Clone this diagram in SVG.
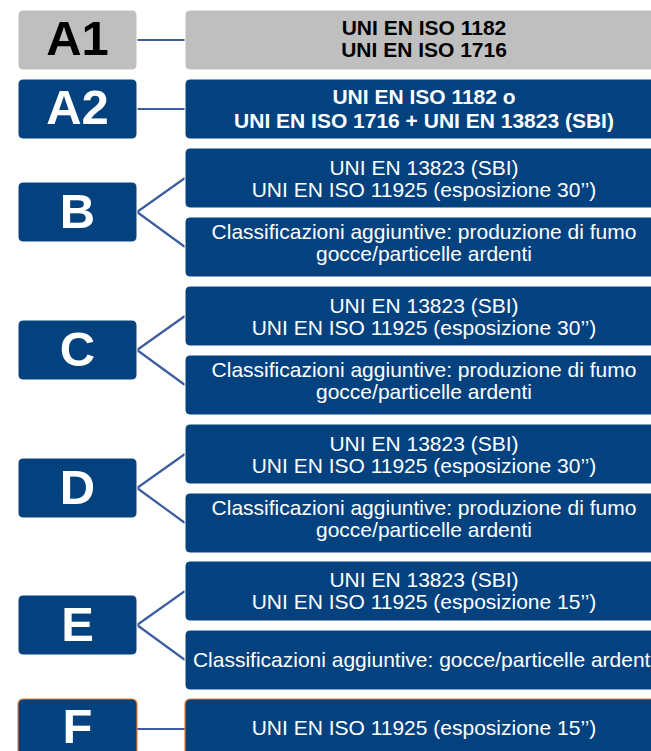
<svg xmlns="http://www.w3.org/2000/svg" width="651" height="751" viewBox="0 0 651 751">
<style>
.nb{fill:#03427F;stroke:#ffffff;stroke-width:1}
.gb{fill:#BFBFBF;stroke:#ffffff;stroke-width:1}
.ob{fill:#03427F;stroke:#ED7D31;stroke-width:1.2}
.L{font-family:"Liberation Sans",Arial,sans-serif;font-weight:bold;font-size:49px;text-anchor:middle;fill:#fff}
.t{font-family:"Liberation Sans",Arial,sans-serif;font-size:21px;text-anchor:middle;fill:#fff}
.tb{font-family:"Liberation Sans",Arial,sans-serif;font-size:21px;font-weight:bold;text-anchor:middle;fill:#fff}
.k{fill:#000}
.c{stroke:#3C5E9F;stroke-width:2.2;fill:none}
</style>
<rect width="651" height="751" fill="#fff"/>
<g id="connectors">
<path class="c" d="M137 40H185"/>
<path class="c" d="M137 109H185"/>
<path class="c" d="M137 212L185 178M137 212L185 247"/>
<path class="c" d="M137 350L185 316M137 350L185 385"/>
<path class="c" d="M137 488L185 454M137 488L185 523"/>
<path class="c" d="M137 625L185 591M137 625L185 660"/>
<path class="c" d="M137 729H185"/>
</g>
<g id="A1">
<rect class="gb" x="18" y="10" width="119" height="60" rx="5"/>
<text class="L k" x="77.5" y="55">A1</text>
</g>
<g id="A1-text">
<rect class="gb" x="185" y="10" width="480" height="60" rx="5"/>
<text class="tb k" x="424" y="35">UNI EN ISO 1182</text>
<text class="tb k" x="424" y="57">UNI EN ISO 1716</text>
</g>
<g id="A2">
<rect class="nb" x="18" y="79" width="119" height="60" rx="5"/>
<text class="L" x="77.5" y="124">A2</text>
</g>
<g id="A2-text">
<rect class="nb" x="185" y="79" width="480" height="60" rx="5"/>
<text class="tb" x="424" y="104">UNI EN ISO 1182 o</text>
<text class="tb" x="424" y="127.5">UNI EN ISO 1716 + UNI EN 13823 (SBI)</text>
</g>
<g id="B">
<rect class="nb" x="18" y="182" width="119" height="60" rx="5"/>
<text class="L" x="77.5" y="227.5">B</text>
</g>
<g id="B-test">
<rect class="nb" x="185" y="148" width="480" height="60" rx="5"/>
<text class="t" x="424" y="174.5">UNI EN 13823 (SBI)</text>
<text class="t" x="424" y="196.5">UNI EN ISO 11925 (esposizione 30&#8217;&#8217;)</text>
</g>
<g id="B-extra">
<rect class="nb" x="185" y="217" width="480" height="60" rx="5"/>
<text class="t" x="424" y="239">Classificazioni aggiuntive: produzione di fumo</text>
<text class="t" x="424" y="261">gocce/particelle ardenti</text>
</g>
<g id="C">
<rect class="nb" x="18" y="320" width="119" height="60" rx="5"/>
<text class="L" x="77.5" y="365.5">C</text>
</g>
<g id="C-test">
<rect class="nb" x="185" y="286" width="480" height="60" rx="5"/>
<text class="t" x="424" y="312.5">UNI EN 13823 (SBI)</text>
<text class="t" x="424" y="334.5">UNI EN ISO 11925 (esposizione 30&#8217;&#8217;)</text>
</g>
<g id="C-extra">
<rect class="nb" x="185" y="355" width="480" height="60" rx="5"/>
<text class="t" x="424" y="377">Classificazioni aggiuntive: produzione di fumo</text>
<text class="t" x="424" y="399">gocce/particelle ardenti</text>
</g>
<g id="D">
<rect class="nb" x="18" y="458" width="119" height="60" rx="5"/>
<text class="L" x="77.5" y="503.5">D</text>
</g>
<g id="D-test">
<rect class="nb" x="185" y="424" width="480" height="60" rx="5"/>
<text class="t" x="424" y="450.5">UNI EN 13823 (SBI)</text>
<text class="t" x="424" y="472.5">UNI EN ISO 11925 (esposizione 30&#8217;&#8217;)</text>
</g>
<g id="D-extra">
<rect class="nb" x="185" y="493" width="480" height="60" rx="5"/>
<text class="t" x="424" y="515">Classificazioni aggiuntive: produzione di fumo</text>
<text class="t" x="424" y="537">gocce/particelle ardenti</text>
</g>
<g id="E">
<rect class="nb" x="18" y="595" width="119" height="60" rx="5"/>
<text class="L" x="77.5" y="640.5">E</text>
</g>
<g id="E-test">
<rect class="nb" x="185" y="561" width="480" height="60" rx="5"/>
<text class="t" x="424" y="586.5">UNI EN 13823 (SBI)</text>
<text class="t" x="424" y="608.5">UNI EN ISO 11925 (esposizione 15&#8217;&#8217;)</text>
</g>
<g id="E-extra">
<rect class="nb" x="185" y="630" width="480" height="60" rx="5"/>
<text class="t" x="424" y="666.5">Classificazioni aggiuntive: gocce/particelle ardenti</text>
</g>
<g id="F">
<rect class="ob" x="18" y="699" width="119" height="60" rx="5"/>
<text class="L" x="77.5" y="743">F</text>
</g>
<g id="F-test">
<rect class="ob" x="185" y="699" width="480" height="60" rx="5"/>
<text class="t" x="424" y="735">UNI EN ISO 11925 (esposizione 15&#8217;&#8217;)</text>
</g>
</svg>
